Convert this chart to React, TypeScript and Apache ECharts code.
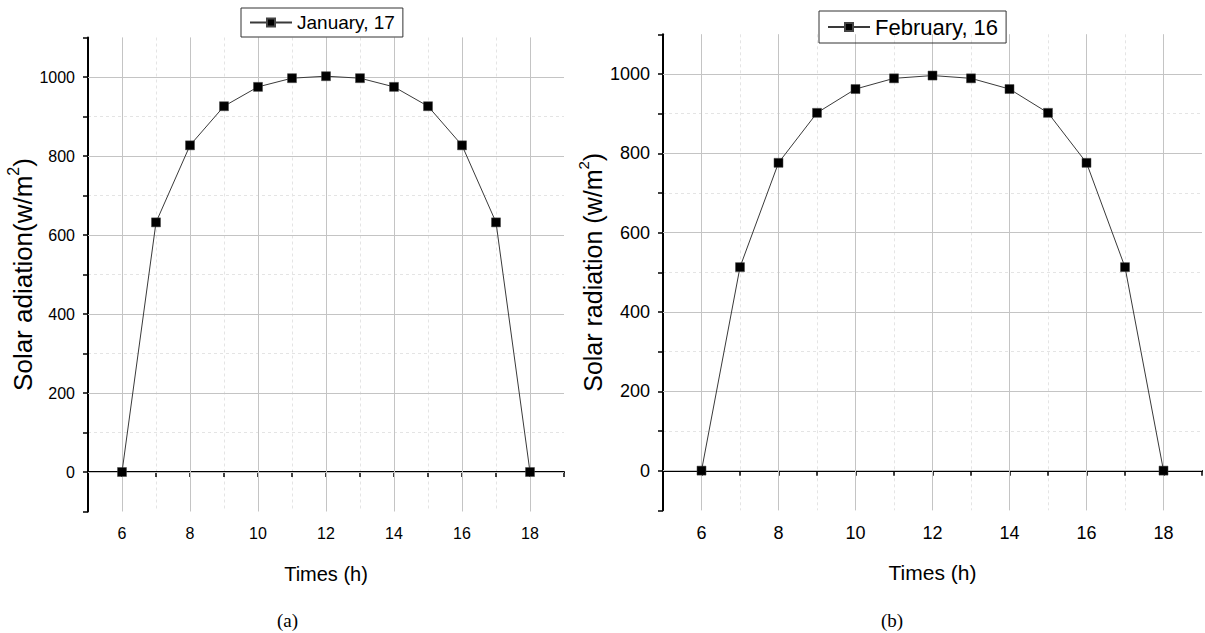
import React, { useEffect, useRef } from "react";
import * as echarts from "echarts";

const hours = [6, 7, 8, 9, 10, 11, 12, 13, 14, 15, 16, 17, 18];
const janValues = [0, 632, 827, 926, 975, 997, 1002, 997, 975, 926, 827, 632, 0];
const febValues = [0, 513, 776, 902, 962, 989, 996, 989, 962, 902, 776, 513, 0];
const xMajorTicks = [6, 8, 10, 12, 14, 16, 18];
const yMajorTicks = [0, 200, 400, 600, 800, 1000];
const seriesNames = ["January, 17", "February, 16"];
const yNames = ["Solar adiation(w/m", "Solar radiation (w/m"];
const xName = "Times (h)";
const panelLabels = ["(a)", "(b)"];

const SANS = '"Liberation Sans", Arial, sans-serif';

export default function App() {
  const ref = useRef<HTMLDivElement>(null);
  useEffect(() => {
    if (!ref.current) return;
    const chart = echarts.init(ref.current, undefined, { renderer: "svg" });
    const grids = [
      { left: 88, top: 37.5, width: 476, height: 474 },
      { left: 663, top: 34.3, width: 539, height: 476 },
    ];
    const tickFont = [16, 18];
    const xNameFont = [20, 21];
    const yNameFont = [26, 25];
    const nameGapY = [47, 58];
    const legendPos = [
      { left: 241, top: 8 },
      { left: 819, top: 11 },
    ];
    const legendFont = [19, 22];
    const values = [janValues, febValues];

    const xAxis = grids.map((_, i) => ({
      type: "value",
      gridIndex: i,
      min: 5,
      max: 19,
      interval: 1,
      name: xName,
      nameLocation: "middle",
      nameGap: 52,
      nameTextStyle: { fontFamily: SANS, fontSize: xNameFont[i], color: "#000" },
      axisLine: { show: true, lineStyle: { color: "#000", width: 2 } },
      axisTick: { show: true, inside: false, length: 5, lineStyle: { color: "#000", width: 1.5 } },
      axisLabel: {
        margin: 14,
        fontFamily: SANS,
        fontSize: tickFont[i],
        color: "#000",
        formatter: (v: number) => (xMajorTicks.includes(v) ? String(v) : ""),
      },
      splitLine: {
        show: true,
        showMinLine: false,
        showMaxLine: false,
        lineStyle: { color: "#e4e4e4", type: [3, 3], width: 1 },
      },
    }));
    const yAxis = grids.map((_, i) => ({
      type: "value",
      gridIndex: i,
      min: -100,
      max: 1100,
      interval: 100,
      name: `{n|${yNames[i]}}{s|2}{n|)}`,
      nameLocation: "middle",
      nameGap: nameGapY[i],
      nameRotate: 90,
      nameTextStyle: {
        rich: {
          n: { fontFamily: SANS, fontSize: yNameFont[i], color: "#000", lineHeight: yNameFont[i] + 4, verticalAlign: "bottom" },
          s: { fontFamily: SANS, fontSize: Math.round(yNameFont[i] * 0.6), color: "#000", verticalAlign: "top", lineHeight: yNameFont[i] + 4 },
        },
      },
      axisLine: { show: true, lineStyle: { color: "#000", width: 2 } },
      axisTick: { show: true, inside: false, length: 5, lineStyle: { color: "#000", width: 1.5 } },
      axisLabel: {
        margin: 13,
        fontFamily: SANS,
        fontSize: tickFont[i],
        color: "#000",
        formatter: (v: number) => (yMajorTicks.includes(v) ? String(v) : ""),
      },
      splitLine: {
        show: true,
        showMinLine: false,
        showMaxLine: false,
        lineStyle: { color: "#e4e4e4", type: [3, 3], width: 1 },
      },
    }));

    const series = grids.map((_, i) => ({
      type: "line",
      name: seriesNames[i],
      xAxisIndex: i,
      yAxisIndex: i,
      data: hours.map((h, k) => [h, values[i][k]]),
      symbol: "rect",
      symbolSize: 9,
      showAllSymbol: true,
      z: 3,
      lineStyle: { color: "#3a3a3a", width: 1 },
      itemStyle: { color: "#000", borderColor: "#444", borderWidth: 0.5 },
      markLine: {
        silent: true,
        z: 1,
        symbol: ["none", "none"],
        label: { show: false },
        lineStyle: { color: "#c4c4c4", type: "solid", width: 1 },
        emphasis: { disabled: true },
        data: [
          ...xMajorTicks.map((v) => ({ xAxis: v })),
          ...yMajorTicks.map((v) => ({ yAxis: v })),
        ],
      },
    }));

    const legend = grids.map((_, i) => ({
      data: [seriesNames[i]],
      left: legendPos[i].left,
      top: legendPos[i].top,
      orient: "horizontal",
      borderColor: "#333",
      borderWidth: 1,
      borderRadius: 0,
      padding: [5, 8, 5, 8],
      itemWidth: 42,
      itemHeight: 10,
      selectedMode: false,
      textStyle: { fontFamily: SANS, fontSize: legendFont[i], color: "#000" },
    }));

    chart.setOption({
      animation: false,
      backgroundColor: "#fff",
      grid: grids,
      xAxis,
      yAxis,
      series,
      legend,
      graphic: [
        {
          type: "text",
          left: 277,
          top: 611,
          style: { text: panelLabels[0], fontFamily: '"Liberation Serif", serif', fontSize: 19, fill: "#000" },
        },
        {
          type: "text",
          left: 881,
          top: 611,
          style: { text: panelLabels[1], fontFamily: '"Liberation Serif", serif', fontSize: 19, fill: "#000" },
        },
      ],
    });
    return () => chart.dispose();
  }, []);
  return (
    <div
      ref={ref}
      style={{ position: "absolute", left: 0, top: 0, width: 1205, height: 633, background: "#fff" }}
    />
  );
}
